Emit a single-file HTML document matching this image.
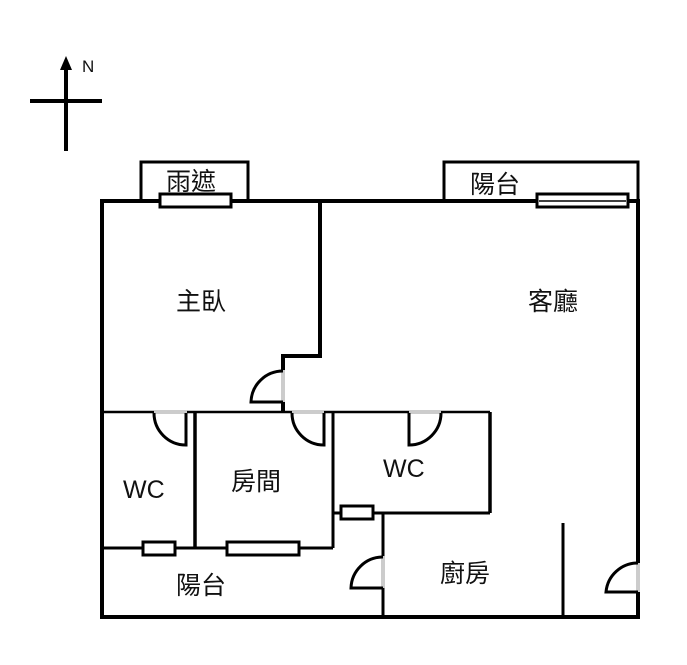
<!DOCTYPE html>
<html><head><meta charset="utf-8"><style>
html,body{margin:0;padding:0;background:#fff;}
svg{display:block;}
text{font-family:"Liberation Sans","Noto Sans CJK TC",sans-serif;fill:#111;}
</style></head><body>
<svg width="687" height="665" viewBox="0 0 687 665" xmlns="http://www.w3.org/2000/svg">
<g stroke="#000" fill="none" stroke-linecap="square">
<!-- compass -->
<line x1="66" y1="66" x2="66" y2="149" stroke-width="4"/>
<line x1="32" y1="101" x2="100" y2="101" stroke-width="4"/>
</g>
<polygon points="66,56 60,70 72,70" fill="#000"/>
<text x="82" y="72" font-size="17">N</text>

<g stroke="#000" fill="none">
<!-- top boxes -->
<polyline points="141,201 141,162 248,162 248,201" stroke-width="3"/>
<polyline points="444,201 444,162 638,162 638,201" stroke-width="3"/>
<!-- outer walls -->
<rect x="102" y="201" width="536" height="416" stroke-width="4"/>
<!-- master bedroom -->
<polyline points="320,201 320,356 283,356 283,370" stroke-width="4"/>
<line x1="283" y1="402" x2="283" y2="412" stroke-width="4"/>
<line x1="102" y1="412" x2="490" y2="412" stroke-width="2.5"/>
<!-- WC left -->
<line x1="195" y1="412" x2="195" y2="548" stroke-width="3.5"/>
<!-- room -->
<line x1="333" y1="412" x2="333" y2="548" stroke-width="3"/>
<!-- WC2 -->
<line x1="490" y1="412" x2="490" y2="513" stroke-width="3.5"/>
<line x1="333" y1="513" x2="490" y2="513" stroke-width="3"/>
<!-- balcony top -->
<line x1="102" y1="548" x2="333" y2="548" stroke-width="3"/>
<!-- kitchen -->
<line x1="383" y1="513" x2="383" y2="556" stroke-width="3"/>
<line x1="383" y1="588" x2="383" y2="617" stroke-width="3"/>
<line x1="563" y1="523" x2="563" y2="617" stroke-width="3"/>
</g>

<!-- windows -->
<g stroke="#000" stroke-width="3" fill="#fff">
<rect x="160" y="194" width="71" height="13"/>
<rect x="537" y="194" width="91" height="13"/>
<rect x="143" y="542" width="32" height="13"/>
<rect x="227" y="542" width="72" height="13"/>
<rect x="341" y="506" width="32" height="13"/>
</g>
<line x1="539" y1="201" x2="626" y2="201" stroke="#000" stroke-width="1.5"/>

<!-- door gray jambs -->
<g stroke="#ccc" stroke-width="4">
<line x1="283" y1="370" x2="283" y2="402"/>
<line x1="154" y1="412" x2="187" y2="412"/>
<line x1="292" y1="412" x2="324" y2="412"/>
<line x1="409" y1="412" x2="441" y2="412"/>
<line x1="383" y1="556" x2="383" y2="588"/>
<line x1="638" y1="563" x2="638" y2="592"/>
</g>
<!-- door leaves and arcs -->
<g stroke="#000" stroke-width="3" fill="none">
<path d="M283,371 A32,32 0 0 0 251,402 L283,402"/>
<path d="M154,413 A32,32 0 0 0 186,445 L186,413"/>
<path d="M292,413 A32,32 0 0 0 324,445 L324,413"/>
<path d="M441,413 A32,32 0 0 1 409,445 L409,413"/>
<path d="M383,557 A32,32 0 0 0 351,588 L383,588"/>
<path d="M638,563 A32,32 0 0 0 606,592 L638,592"/>
</g>

<g font-size="25">
<text x="166" y="190">雨遮</text>
<text x="470" y="193">陽台</text>
<text x="176" y="310">主臥</text>
<text x="528" y="310">客廳</text>
<text x="123" y="498">WC</text>
<text x="231" y="490">房間</text>
<text x="383" y="477">WC</text>
<text x="440" y="582">廚房</text>
<text x="176" y="594">陽台</text>
</g>
</svg>
</body></html>
